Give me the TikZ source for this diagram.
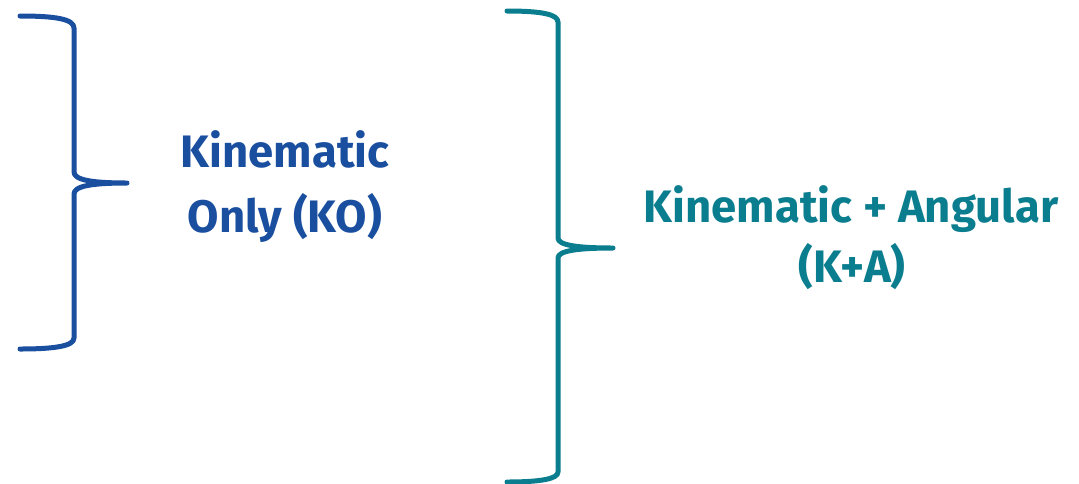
\documentclass[tikz,border=0pt]{standalone}
\usepackage{fontspec}
\setmainfont{Fira Sans}
\definecolor{koblue}{HTML}{1A4FA0}
\definecolor{kateal}{HTML}{0A7D8E}
\begin{document}
\begin{tikzpicture}[x=1pt,y=-1pt,
  bracestroke/.style={line width=5pt,line cap=round,line join=round},
  label/.style={font=\fontsize{45.5}{65}\selectfont\bfseries,align=center,inner sep=0pt}]
\useasboundingbox (0,0) rectangle (1079,483);

% left brace
\draw[bracestroke,koblue] (20,16) .. controls (55,16) and (74,19) .. (74,28)
  -- (74,172) .. controls (74,180) and (92,183) .. (127,183)
  .. controls (92,183) and (74,186) .. (74,194)
  -- (74,338) .. controls (74,346) and (55,349) .. (20,349);

% right brace
\draw[bracestroke,kateal] (507,11) .. controls (540,11) and (558,14) .. (558,22)
  -- (558,238) .. controls (558,245) and (576,248) .. (613,248)
  .. controls (576,248) and (558,251) .. (558,258)
  -- (558,472) .. controls (558,479) and (540,482) .. (507,482);

\node[label,koblue,anchor=base] (ko1) at (285,167) {Kinematic};
\node[label,koblue,anchor=base] (ko2) at (285,232) {Only (KO)};
\node[label,kateal,anchor=base] (ka1) at (851,222) {Kinematic + Angular};
\node[label,kateal,anchor=base] (ka2) at (852,282) {(K+A)};
\end{tikzpicture}
\end{document}
